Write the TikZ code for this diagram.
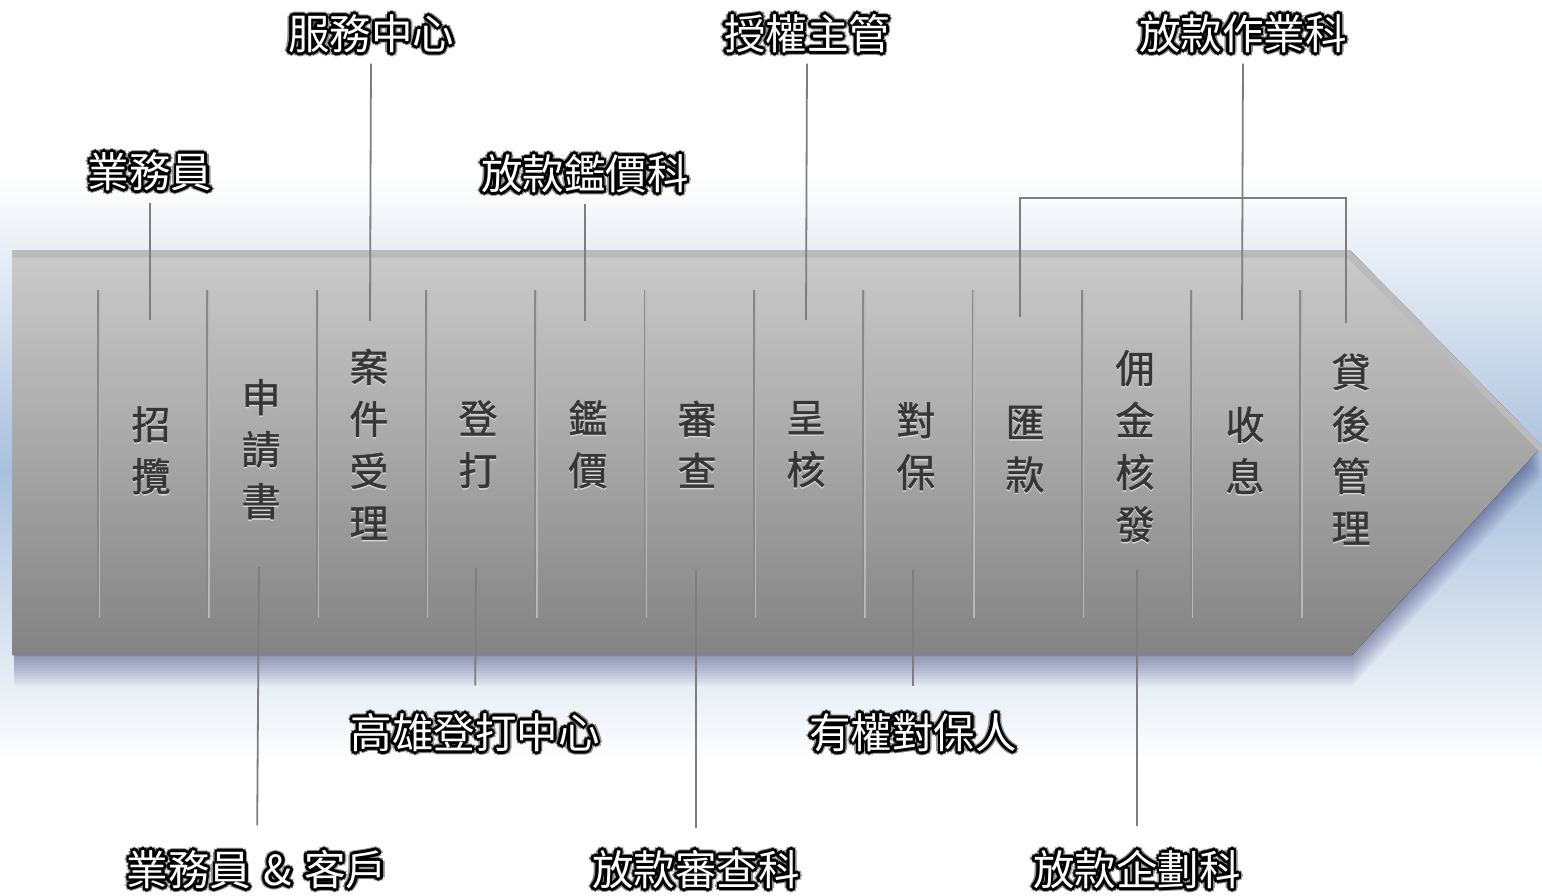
\documentclass[tikz,border=0pt]{standalone}
\usepackage{fontspec}
\newfontfamily\cjk{Noto Sans CJK TC}
\newfontfamily\cjkm{Noto Sans CJK TC}[FakeBold=1.2]
\definecolor{bgblue}{HTML}{A9C0DD}
\definecolor{arrtop}{HTML}{CBCBCB}
\definecolor{arrbot}{HTML}{838383}
\definecolor{bevel}{HTML}{BBBBBB}
\definecolor{divdark}{HTML}{888888}
\definecolor{divlight}{HTML}{B8B8B8}
\definecolor{conncol}{HTML}{7E7E7E}
\definecolor{coltext}{HTML}{363636}
\definecolor{embl}{HTML}{D2D2D2}
\newcommand\gcp[3]{\rlap{\kern#1\raisebox{#2}{#3}}}
\newcommand\glow[1]{%
  \gcp{4.3pt}{0pt}{\color{black!45}#1}\gcp{-4.3pt}{0pt}{\color{black!45}#1}%
  \gcp{0pt}{4.3pt}{\color{black!45}#1}\gcp{0pt}{-4.3pt}{\color{black!45}#1}%
  \gcp{3pt}{3pt}{\color{black!45}#1}\gcp{-3pt}{3pt}{\color{black!45}#1}%
  \gcp{3pt}{-3pt}{\color{black!45}#1}\gcp{-3pt}{-3pt}{\color{black!45}#1}%
  \gcp{2.6pt}{0pt}{\color{black}#1}\gcp{-2.6pt}{0pt}{\color{black}#1}%
  \gcp{0pt}{2.6pt}{\color{black}#1}\gcp{0pt}{-2.6pt}{\color{black}#1}%
  \gcp{1.84pt}{1.84pt}{\color{black}#1}\gcp{-1.84pt}{1.84pt}{\color{black}#1}%
  \gcp{1.84pt}{-1.84pt}{\color{black}#1}\gcp{-1.84pt}{-1.84pt}{\color{black}#1}%
  \gcp{2.4pt}{1pt}{\color{black}#1}\gcp{-2.4pt}{1pt}{\color{black}#1}%
  \gcp{2.4pt}{-1pt}{\color{black}#1}\gcp{-2.4pt}{-1pt}{\color{black}#1}%
  \gcp{1pt}{2.4pt}{\color{black}#1}\gcp{-1pt}{2.4pt}{\color{black}#1}%
  \gcp{1pt}{-2.4pt}{\color{black}#1}\gcp{-1pt}{-2.4pt}{\color{black}#1}%
  {\color{white}#1}}
\newcommand\emb[1]{\rlap{\raisebox{-1.6pt}{\color{embl}#1}}#1}
\tikzset{
  lab/.style={font=\cjk\fontsize{41.5}{41.5}\selectfont, inner sep=0pt,
    text height=34pt, text depth=7pt},
  col/.style={font=\cjkm\fontsize{39}{52}\selectfont, align=center,
    text=coltext, inner sep=0pt},
  conn/.style={draw=conncol, line width=1.8pt},
  divider/.style={draw=divdark, line width=1.8pt},
  dividerhl/.style={draw=divlight, line width=1.4pt}
}
\begin{document}
\begin{tikzpicture}[x=1pt,y=-1pt]
\useasboundingbox (0,0) rectangle (1542,896);
\fill[white] (0,0) rectangle (1542,896);
% background glow band
\fill[top color=white, bottom color=white, middle color=bgblue] (0,175) rectangle (1542,765);
% arrow shadow
\foreach \k in {1,...,12}{
  \fill[black!70!blue, opacity=0.03, yshift=-\k*2.6pt]
    (14,250) -- (1350,250) -- (1542,446) -- (1352,655) -- (14,655) -- cycle;
}
% arrow body
\fill[top color=arrtop, bottom color=arrbot]
  (12,250) -- (1350,250) -- (1542,446) -- (1352,655) -- (12,655) -- cycle;
\fill[bevel] (12,250) -- (1350,250) -- (1542,446) -- (1542,454) -- (1347,257.5) -- (12,257.5) -- cycle;
% dividers
\foreach \i in {0,...,11}{
  \pgfmathsetmacro\xx{98+109.3*\i}
  \draw[divider] (\xx,290) -- (\xx,618);
  \draw[dividerhl] (\xx+1.7,290) -- (\xx+1.7,618);
}
% column texts
\node[col] (s1) at (151,451) {\emb{招}\\\emb{攬}};
\node[col] (s2) at (261,450) {\emb{申}\\\emb{請}\\\emb{書}};
\node[col] (s3) at (369,445) {\emb{案}\\\emb{件}\\\emb{受}\\\emb{理}};
\node[col] (s4) at (478,445) {\emb{登}\\\emb{打}};
\node[col] (s5) at (588,445) {\emb{鑑}\\\emb{價}};
\node[col] (s6) at (697,445) {\emb{審}\\\emb{查}};
\node[col] (s7) at (806,445) {\emb{呈}\\\emb{核}};
\node[col] (s8) at (916,447) {\emb{對}\\\emb{保}};
\node[col] (s9) at (1025,450) {\emb{匯}\\\emb{款}};
\node[col] (s10) at (1135,447) {\emb{佣}\\\emb{金}\\\emb{核}\\\emb{發}};
\node[col] (s11) at (1245,451) {\emb{收}\\\emb{息}};
\node[col] (s12) at (1351,450) {\emb{貸}\\\emb{後}\\\emb{管}\\\emb{理}};
% labels
\node[lab] (l1) at (150,174) {\glow{業務員}};
\node[lab] (l2) at (371,36) {\glow{服務中心}};
\node[lab] (l3) at (585,176) {\glow{放款鑑價科}};
\node[lab] (l4) at (807,36) {\glow{授權主管}};
\node[lab] (l5) at (1243,36) {\glow{放款作業科}};
\node[lab] (l6) at (257,872) {\glow{業務員\hspace{0.3em}\&\hspace{0.3em}客戶}};
\node[lab] (l7) at (475,735) {\glow{高雄登打中心}};
\node[lab] (l8) at (696,872) {\glow{放款審查科}};
\node[lab] (l9) at (913,735) {\glow{有權對保人}};
\node[lab] (l10) at (1137,872) {\glow{放款企劃科}};
% connector end points
\coordinate (c1) at (150,320);
\coordinate (c2) at (370,321);
\coordinate (c3) at (585,321);
\coordinate (c4) at (806,320);
\coordinate (c5) at (1242,320);
\coordinate (c6) at (259,567);
\coordinate (c7) at (476,568);
\coordinate (c8) at (696,570);
\coordinate (c9) at (913,570);
\coordinate (c10) at (1137,570);
\coordinate (br1) at (1020,317);
\coordinate (br2) at (1346,323);
\coordinate (brtop) at (0,198);
% connectors
\draw[conn, shorten <=8pt] (l1.south) -- (c1);
\draw[conn, shorten <=7pt] (l2.south) -- (c2);
\draw[conn, shorten <=7pt] (l3.south) -- (c3);
\draw[conn, shorten <=7pt] (l4.south) -- (c4);
\draw[conn, shorten <=7pt] (l5.south) -- (c5);
\draw[conn, shorten <=26pt] (l6.north) -- (c6);
\draw[conn, shorten <=29pt] (l7.north) -- (c7);
\draw[conn, shorten <=23pt] (l8.north) -- (c8);
\draw[conn, shorten <=28pt] (l9.north) -- (c9);
\draw[conn, shorten <=25pt] (l10.north) -- (c10);
\draw[conn] (br1) -- (br1 |- brtop) -- (br2 |- brtop) -- (br2);
\end{tikzpicture}
\end{document}
